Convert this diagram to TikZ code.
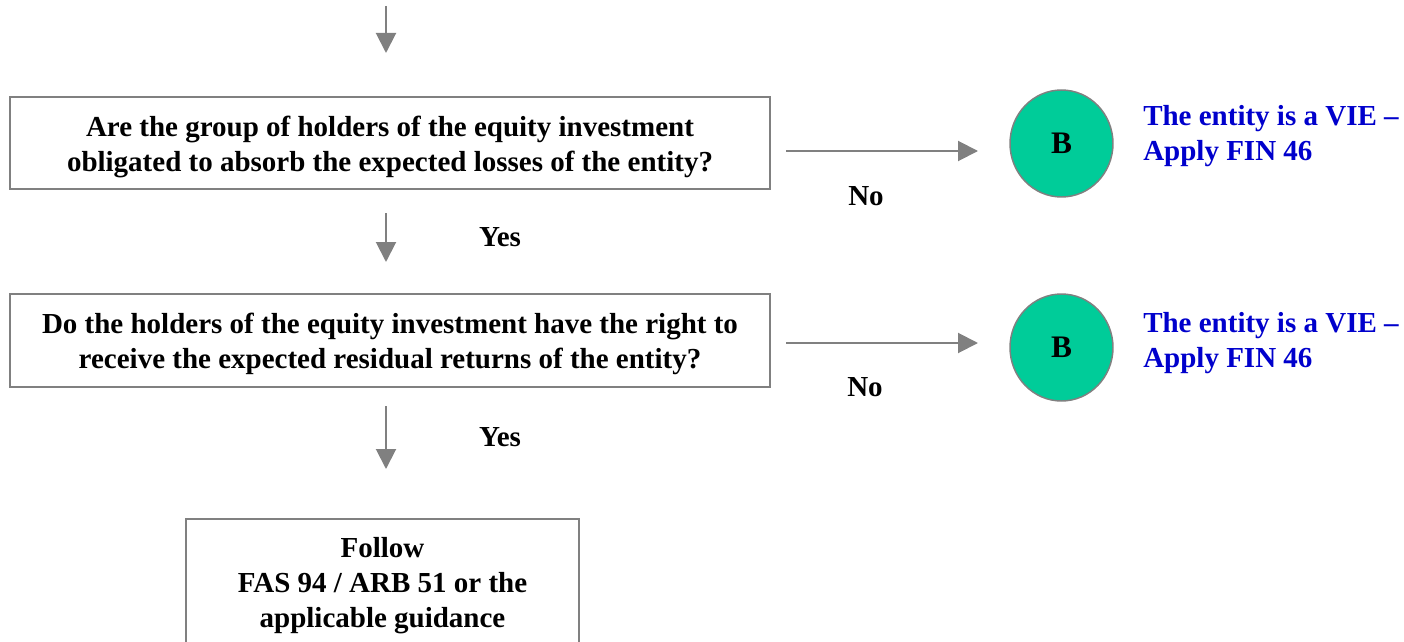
\documentclass[tikz,border=0pt]{standalone}
\usepackage{fontspec}
\setmainfont{Liberation Serif}
\usetikzlibrary{arrows.meta,shapes.geometric}
\definecolor{lgray}{HTML}{808080}
\definecolor{vieblue}{HTML}{0000CC}
\definecolor{bgreen}{HTML}{00CC99}
\newcommand\diafs{\fontsize{21.75}{26.25}\selectfont}
\newcommand\topstrut{\rule{0pt}{21pt}}
\tikzset{
  qbox/.style={draw=lgray, line width=1.5pt, align=center, font=\bfseries\diafs, inner sep=0pt},
  bcirc/.style={ellipse, draw=lgray, line width=1.1pt, fill=bgreen, inner sep=0pt,
    minimum width=77.25pt, minimum height=80.25pt, font=\bfseries\fontsize{23.5}{28}\selectfont},
  vie/.style={text=vieblue, align=left, font=\bfseries\diafs, inner sep=0pt},
  lbl/.style={font=\bfseries\diafs, inner sep=0pt},
  arr/.style={draw=lgray, line width=1.5pt, -{Triangle[length=15pt,width=15pt]}, color=lgray}
}
\begin{document}
\begin{tikzpicture}[x=0.75pt,y=-0.75pt]
\useasboundingbox (0,0) rectangle (1404,642);
\clip (0,0) rectangle (1404,642);
\node[qbox, minimum width=570pt, minimum height=69pt] (q1) at (390,143)
  {\topstrut Are the group of holders of the equity investment\\obligated to absorb the expected losses of the entity?};
\node[qbox, minimum width=570pt, minimum height=69.75pt] (q2) at (390,340.5)
  {\topstrut Do the holders of the equity investment have the right to\\receive the expected residual returns of the entity?};
\node[qbox, minimum width=294.75pt, minimum height=100.5pt] (fol) at (382.5,586)
  {Follow\\FAS 94 / ARB 51 or the\\applicable guidance};
\node[bcirc] (c1) at (1061.5,143.5) {B};
\node[bcirc] (c2) at (1061.5,347.5) {B};
\node[vie, anchor=north west] (v1) at (1143,105) {The entity is a VIE –\\Apply FIN 46};
\node[vie, anchor=north west] (v2) at (1143,312) {The entity is a VIE –\\Apply FIN 46};
\node[lbl] (y1) at (500,237) {Yes};
\node[lbl] (y2) at (500,437) {Yes};
\node[lbl] (n1) at (866,196) {No};
\node[lbl] (n2) at (865,387) {No};
\coordinate (a0s) at (386,6);
\coordinate (a0e) at (386,53);
\coordinate (a1s) at (386,213);
\coordinate (a1e) at (386,262);
\coordinate (a2s) at (386,406);
\coordinate (a2e) at (386,469);
\coordinate (h1s) at (786,151);
\coordinate (h1e) at (978,151);
\coordinate (h2s) at (786,343);
\coordinate (h2e) at (978,343);
\draw[arr] (a0s) -- (a0e);
\draw[arr] (a1s) -- (a1e);
\draw[arr] (a2s) -- (a2e);
\draw[arr] (h1s) -- (h1e);
\draw[arr] (h2s) -- (h2e);
\end{tikzpicture}
\end{document}
